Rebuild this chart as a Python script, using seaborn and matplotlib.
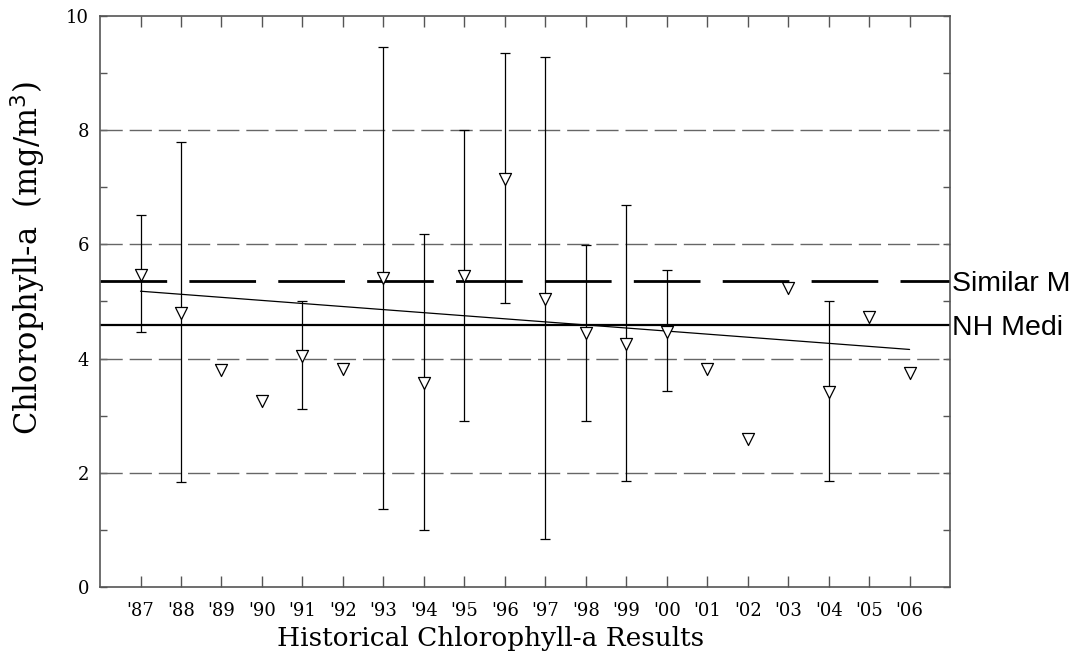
import numpy as np
import pandas as pd
import matplotlib
matplotlib.use("Agg")
import matplotlib.pyplot as plt
import matplotlib.transforms as mtransforms
import seaborn as sns


# Yearly chlorophyll-a results (mean, min, max)
years = [1987, 1988, 1989, 1990, 1991, 1992, 1993, 1994, 1995, 1996,
         1997, 1998, 1999, 2000, 2001, 2002, 2003, 2004, 2005, 2006]
year_labels = ["'87", "'88", "'89", "'90", "'91", "'92", "'93", "'94", "'95", "'96",
               "'97", "'98", "'99", "'00", "'01", "'02", "'03", "'04", "'05", "'06"]
means = [5.46, 4.80, 3.80, 3.26, 4.05, 3.82, 5.41, 3.58, 5.45, 7.14,
         5.04, 4.45, 4.26, 4.47, 3.82, 2.59, 5.23, 3.41, 4.72, 3.75]
lows = [4.47, 1.84, None, None, 3.12, None, 1.36, 1.00, 2.91, 4.97,
        0.84, 2.91, 1.86, 3.44, None, None, None, 1.86, None, None]
highs = [6.51, 7.79, None, None, 5.01, None, 9.46, 6.19, 8.00, 9.35,
         9.28, 5.99, 6.69, 5.56, None, None, None, 5.01, None, None]

# Reference lines and trend
similar_lakes = 5.36
nh_median = 4.59
trend_years = [1987, 2006]
trend_values = [5.18, 4.16]


def build_frame() -> pd.DataFrame:
    df = pd.DataFrame({"year": years, "mean": means, "low": lows, "high": highs})
    return df


def plot_chart(df: pd.DataFrame) -> None:
    sns.set_style("ticks")
    plt.rcParams["font.family"] = ["DejaVu Serif"]
    plt.rcParams["text.color"] = "black"
    plt.rcParams["axes.labelcolor"] = "black"
    plt.rcParams["xtick.labelcolor"] = "black"
    plt.rcParams["ytick.labelcolor"] = "black"

    fig = plt.figure(figsize=(10.79, 6.58), dpi=100)
    ax = fig.add_axes([0.0927, 0.1079, 0.7878, 0.8678])

    # grid lines at major y ticks
    for y in [2, 4, 6, 8]:
        ax.axhline(y, color="#666666", lw=1.0, dashes=(16, 5), zorder=1)

    # reference lines
    ax.axhline(similar_lakes, color="black", lw=2.0, dashes=(24, 8), zorder=2)
    ax.axhline(nh_median, color="black", lw=1.6, zorder=2)

    # trend line
    trend = pd.DataFrame({"year": trend_years, "value": trend_values})
    sns.lineplot(data=trend, x="year", y="value", color="black", lw=0.9,
                 ax=ax, zorder=3)

    # error bars (min / max)
    bars = df.dropna(subset=["low", "high"])
    ax.errorbar(bars["year"], bars["mean"],
                yerr=[bars["mean"] - bars["low"], bars["high"] - bars["mean"]],
                fmt="none", ecolor="black", elinewidth=0.9, capsize=3.5,
                capthick=0.9, zorder=4)

    # mean markers
    sns.scatterplot(data=df, x="year", y="mean", marker="v", s=75,
                    facecolor="white", edgecolor="black", linewidth=0.9,
                    ax=ax, zorder=5)

    ax.set_xlim(1986, 2007)
    ax.set_ylim(0, 10)
    ax.set_xticks(years)
    ax.set_xticklabels(year_labels, fontsize=13)
    ax.set_yticks([0, 2, 4, 6, 8, 10])
    ax.set_yticks([1, 3, 5, 7, 9], minor=True)
    ax.tick_params(axis="y", labelsize=13)
    ax.tick_params(axis="both", which="both", direction="in",
                   top=True, right=True, color="#555555", width=1)
    ax.tick_params(axis="x", which="major", length=8, pad=11)
    ax.tick_params(axis="y", which="major", length=5, pad=8)
    ax.tick_params(axis="y", which="minor", length=5)
    ax.tick_params(axis="x", which="minor", bottom=False, top=False)
    for s in ax.spines.values():
        s.set_color("#555555")
        s.set_linewidth(1.2)

    ax.set_xlabel("Historical Chlorophyll-a Results", fontsize=19)
    ax.set_ylabel("Chlorophyll-a  (mg/m$^3$)", fontsize=22)
    ax.xaxis.set_label_coords(0.46, -0.091, transform=ax.transAxes)
    ax.xaxis.label.set_va("center")
    ax.yaxis.set_label_coords(-0.085, 0.575, transform=ax.transAxes)
    ax.yaxis.label.set_va("center")

    # labels for the reference lines, to the right of the axes
    trans = mtransforms.blended_transform_factory(ax.transAxes, ax.transData)
    ax.text(1.002, similar_lakes - 0.06, "Similar M", transform=trans,
            ha="left", va="center", fontsize=20.5, family="Liberation Sans",
            color="black", clip_on=False)
    ax.text(1.002, nh_median - 0.06, "NH Medi", transform=trans,
            ha="left", va="center", fontsize=20.5, family="Liberation Sans",
            color="black", clip_on=False)

    fig.savefig("out.png", dpi=100)


def main() -> None:
    df = build_frame()
    plot_chart(df)


if __name__ == "__main__":
    main()
